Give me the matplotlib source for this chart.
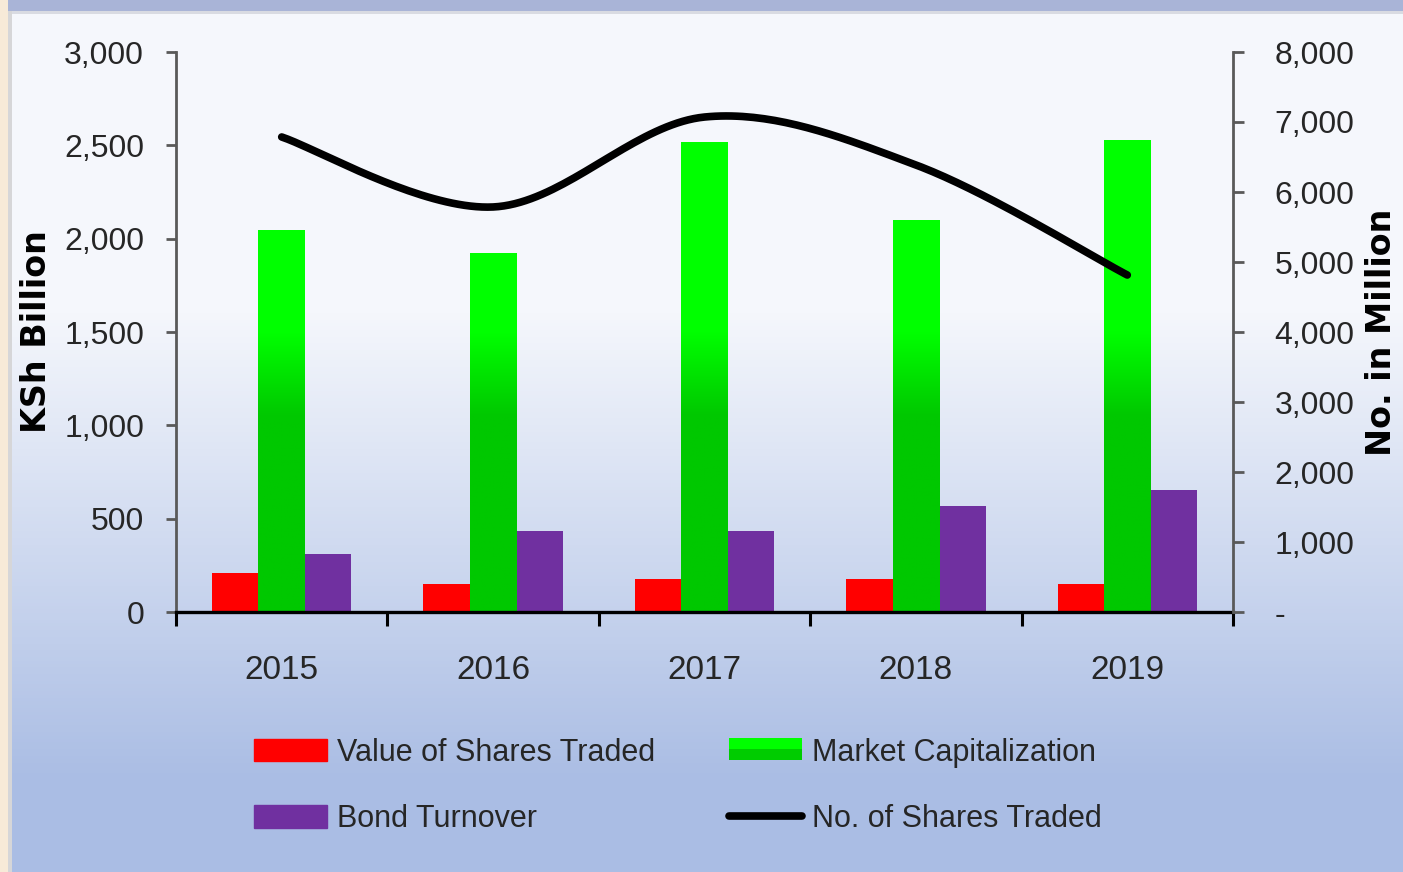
import numpy as np
import matplotlib
matplotlib.use("Agg")
import matplotlib.pyplot as plt
from matplotlib.patches import Rectangle
from matplotlib.lines import Line2D
from matplotlib.colors import LinearSegmentedColormap
from matplotlib.ticker import FuncFormatter, FixedLocator
from matplotlib.legend_handler import HandlerBase

# ---- data ----
years = ["2015", "2016", "2017", "2018", "2019"]
value_traded = [209, 150, 177, 177, 150]          # KSh Billion
market_cap = [2046, 1923, 2518, 2100, 2528]       # KSh Billion
bond_turnover = [311, 434, 434, 568, 653]         # KSh Billion
shares_traded = [6786, 5786, 7071, 6386, 4814]    # No. in Million

NARROW = ["Liberation Sans", "DejaVu Sans"]
TXT = "#262626"

fig = plt.figure(figsize=(14.03, 8.72), dpi=100)

# ---- background: vertical gradient + frame strips ----
bg = fig.add_axes([0, 0, 1, 1], zorder=-10)
bg_cmap = LinearSegmentedColormap.from_list(
    "bg", [(0, "#aabde4"), (90 / 872, "#aabde4"), (560 / 872, "#f5f7fc"), (1, "#f5f7fc")])
bg.imshow(np.linspace(0, 1, 256).reshape(-1, 1), cmap=bg_cmap, aspect="auto",
          extent=(0, 1, 0, 1), origin="lower")
bg.set_xlim(0, 1)
bg.set_ylim(0, 1)
bg.axis("off")
bg.add_patch(Rectangle((0, 1 - 11 / 872), 1, 11 / 872, color="#a9b4d7", lw=0))
bg.add_patch(Rectangle((0, 1 - 14 / 872), 1, 3 / 872, color="#d9dbe2", lw=0))
bg.add_patch(Rectangle((0, 0), 8 / 1403, 1, color="#f7ead8", lw=0))
bg.add_patch(Rectangle((8 / 1403, 0), 4 / 1403, 1 - 11 / 872, color="#d6d6d8", lw=0))

# ---- main axes ----
ax = fig.add_axes([176 / 1403, 1 - 612 / 872, 1057 / 1403, 560 / 872])
ax.patch.set_visible(False)
x = np.arange(len(years))
w = 0.22

ax.bar(x - w, value_traded, w, color="#ff0000", label="Value of Shares Traded", zorder=2)
green_bars = ax.bar(x, market_cap, w, color="#00e000", label="Market Capitalization", zorder=2)
ax.bar(x + w, bond_turnover, w, color="#7030a0", label="Bond Turnover", zorder=2)

# green gradient: bright on top, darker lower down
green_cmap = LinearSegmentedColormap.from_list("g", ["#00c800", "#00ff00"])
for b in green_bars:
    x0, h = b.get_x(), b.get_height()
    vals = np.linspace(0, h, 300)
    t = np.clip((vals - 1050) / (1500 - 1050), 0, 1)
    im = ax.imshow(t.reshape(-1, 1), cmap=green_cmap, vmin=0, vmax=1, aspect="auto",
                   extent=(x0, x0 + b.get_width(), 0, h), origin="lower", zorder=2.1)
    im.set_clip_path(b)

ax.set_xlim(-0.5, len(years) - 0.5)
ax.set_ylim(0, 3000)
ax.set_yticks(range(0, 3001, 500))
ax.yaxis.set_major_formatter(FuncFormatter(lambda v, p: f"{v:,.0f}"))
ax.set_xticks(np.arange(-0.5, len(years), 1.0))
ax.set_xticklabels([])
ax.xaxis.set_minor_locator(FixedLocator(x))
ax.set_xticklabels(years, minor=True)
ax.tick_params(axis="x", which="major", length=10, width=2.2, color="black", direction="out")
ax.tick_params(axis="x", which="minor", length=0, pad=31, labelsize=24, labelcolor=TXT)
ax.tick_params(axis="y", length=7, width=2, color="#595959", pad=16, labelsize=23, labelcolor=TXT)
for lab in ax.get_xticklabels(minor=True) + ax.get_yticklabels():
    lab.set_family(NARROW)

ax.spines["top"].set_visible(False)
ax.spines["right"].set_visible(False)
ax.spines["left"].set_color("#595959")
ax.spines["left"].set_linewidth(2)
ax.spines["bottom"].set_color("black")
ax.spines["bottom"].set_linewidth(2.4)
ax.spines["bottom"].set_zorder(3)
ax.set_ylabel("KSh Billion", fontsize=24, fontweight="bold", color="black")
ax.yaxis.set_label_coords(-0.116, 0.5)

# ---- secondary axis: smoothed line ----
ax2 = ax.twinx()
ax2.set_ylim(0, 8000)
ax2.set_yticks(range(0, 8001, 1000))
ax2.yaxis.set_major_formatter(FuncFormatter(lambda v, p: "-" if v == 0 else f"{v:,.0f}"))
ax2.tick_params(axis="y", length=8, width=2, color="#595959", pad=22, labelsize=23, labelcolor=TXT)
for lab in ax2.get_yticklabels():
    lab.set_family(NARROW)
for s in ["top", "left", "bottom"]:
    ax2.spines[s].set_visible(False)
ax2.spines["right"].set_color("#595959")
ax2.spines["right"].set_linewidth(2)
ax2.set_ylabel("No. in Million", fontsize=24, fontweight="bold", color="black", rotation=90)
ax2.yaxis.set_label_coords(1.125, 0.5)


def smooth(xs, ys, sx, sy, n=40):
    # Excel-like smoothing: Catmull-Rom Bezier in screen-proportional units
    px = np.asarray(xs, float) * sx
    py = np.asarray(ys, float) * sy
    P = np.column_stack([px, py])
    P = np.vstack([P[0], P, P[-1]])
    out = []
    for i in range(1, len(P) - 2):
        p0, p1, p2, p3 = P[i - 1], P[i], P[i + 1], P[i + 2]
        c1 = p1 + (p2 - p0) / 6
        c2 = p2 - (p3 - p1) / 6
        t = np.linspace(0, 1, n)[:, None]
        seg = (1 - t) ** 3 * p1 + 3 * (1 - t) ** 2 * t * c1 + 3 * (1 - t) * t ** 2 * c2 + t ** 3 * p2
        out.append(seg if i == 1 else seg[1:])
    out = np.vstack(out)
    return out[:, 0] / sx, out[:, 1] / sy


sx_, sy_ = smooth(x, shares_traded, 211.4, 0.07)
ax2.plot(sx_, sy_, color="black", lw=5.5, solid_capstyle="round", zorder=4)


# ---- legend ----
class GradientHandler(HandlerBase):
    def create_artists(self, legend, orig, xd, yd, width, height, fontsize, trans):
        top = Rectangle((xd, yd + height / 2), width, height / 2, color="#00ff00", lw=0, transform=trans)
        bot = Rectangle((xd, yd), width, height / 2, color="#00cc00", lw=0, transform=trans)
        return [bot, top]


h_red = Rectangle((0, 0), 1, 1, color="#ff0000")
h_green = Rectangle((0, 0), 1, 1, color="#00e000")
h_purple = Rectangle((0, 0), 1, 1, color="#7030a0")
h_line = Line2D([], [], color="black", lw=5.5, solid_capstyle="round")
leg = fig.legend([h_red, h_purple, h_green, h_line],
                 ["Value of Shares Traded", "Bond Turnover", "Market Capitalization", "No. of Shares Traded"],
                 handler_map={h_green: GradientHandler()},
                 ncol=2, loc="center", bbox_to_anchor=(678 / 1403, 1 - 786 / 872),
                 frameon=False, prop={"family": NARROW, "size": 22},
                 handlelength=2.4, handleheight=0.75, handletextpad=0.33,
                 columnspacing=2.4, labelspacing=1.2)
for t in leg.get_texts():
    t.set_color(TXT)

fig.savefig("out.png", dpi=100)
